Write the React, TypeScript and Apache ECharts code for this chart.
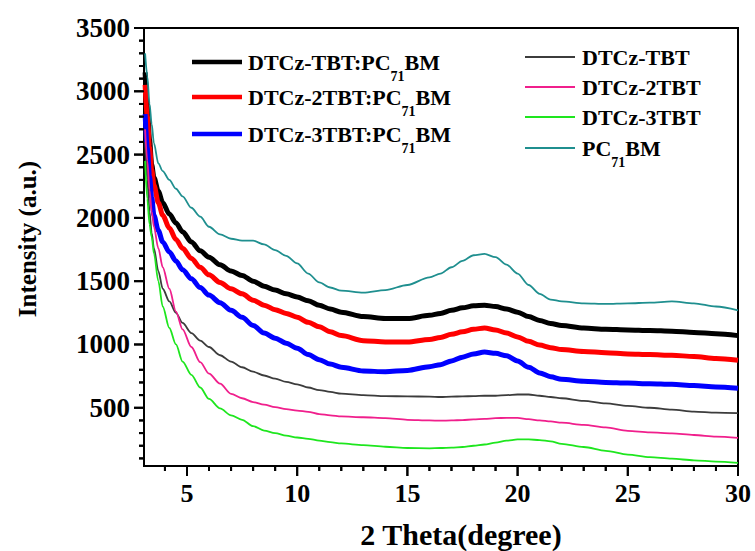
import React, { useEffect, useRef } from "react";
import * as echarts from "echarts";

// 2θ sample positions (degree)
const twoTheta = [3.1, 3.2, 3.3, 3.4, 3.5, 3.7, 3.9, 4.2, 4.5, 4.8, 5.2, 5.6, 6, 6.5, 7, 7.5, 8, 8.5, 9, 9.5, 10, 10.5, 11, 11.5, 12, 13, 14, 15, 16, 16.5, 17, 17.5, 18, 18.5, 19, 19.5, 20, 20.5, 21, 21.5, 22, 23, 24, 25, 26, 27, 28, 29, 30];

const tbtBlend = [3150, 2900, 2620, 2420, 2320, 2210, 2120, 2030, 1960, 1890, 1810, 1740, 1690, 1630, 1580, 1545, 1500, 1460, 1430, 1400, 1375, 1345, 1310, 1280, 1255, 1220, 1205, 1205, 1230, 1245, 1270, 1290, 1305, 1310, 1300, 1280, 1255, 1220, 1190, 1165, 1150, 1130, 1120, 1115, 1110, 1105, 1095, 1085, 1070];
const tbt2Blend = [3050, 2800, 2560, 2380, 2260, 2120, 2020, 1920, 1830, 1760, 1680, 1610, 1550, 1490, 1440, 1400, 1350, 1310, 1275, 1245, 1215, 1175, 1140, 1100, 1070, 1030, 1020, 1020, 1040, 1055, 1080, 1100, 1120, 1130, 1115, 1090, 1060, 1025, 995, 975, 960, 945, 935, 925, 920, 915, 905, 890, 875];
const tbt3Blend = [2820, 2550, 2330, 2160, 2020, 1900, 1810, 1730, 1660, 1590, 1520, 1450, 1390, 1330, 1270, 1215, 1150, 1090, 1050, 1010, 970, 920, 880, 845, 820, 790, 785, 795, 825, 840, 870, 900, 925, 940, 930, 910, 870, 820, 775, 745, 725, 710, 700, 695, 690, 685, 675, 665, 655];
const tbtNeat = [2600, 2300, 2050, 1880, 1760, 1580, 1440, 1340, 1250, 1170, 1090, 1030, 980, 915, 865, 820, 785, 755, 730, 705, 685, 660, 640, 625, 612, 600, 592, 590, 588, 585, 588, 590, 592, 595, 595, 600, 605, 605, 595, 585, 575, 555, 535, 515, 500, 485, 470, 462, 458];
const tbt2Neat = [2700, 2450, 2220, 2050, 1930, 1760, 1610, 1440, 1260, 1120, 980, 860, 770, 690, 610, 575, 545, 525, 505, 490, 478, 468, 450, 440, 432, 425, 418, 405, 400, 398, 400, 403, 408, 412, 418, 420, 420, 410, 400, 392, 382, 365, 345, 318, 305, 298, 285, 272, 262];
const tbt3Neat = [2450, 2150, 1950, 1850, 1720, 1500, 1300, 1130, 1000, 865, 760, 660, 570, 495, 440, 405, 355, 320, 300, 280, 265, 255, 240, 228, 218, 205, 192, 182, 180, 182, 185, 190, 200, 210, 225, 240, 250, 250, 245, 235, 215, 190, 160, 130, 110, 98, 85, 75, 65];
const pcbmNeat = [3300, 3120, 2900, 2740, 2590, 2430, 2370, 2300, 2230, 2170, 2080, 2010, 1930, 1870, 1835, 1820, 1820, 1790, 1745, 1700, 1640, 1560, 1490, 1450, 1425, 1410, 1430, 1470, 1530, 1560, 1610, 1660, 1705, 1715, 1690, 1630, 1560, 1470, 1400, 1355, 1340, 1325, 1320, 1325, 1330, 1340, 1325, 1300, 1270];

const seriesNames = ["DTCz-TBT:PC71BM", "DTCz-2TBT:PC71BM", "DTCz-3TBT:PC71BM", "DTCz-TBT", "DTCz-2TBT", "DTCz-3TBT", "PC71BM"];
const seriesValues = [tbtBlend, tbt2Blend, tbt3Blend, tbtNeat, tbt2Neat, tbt3Neat, pcbmNeat];
const seriesColors = ["#000000", "#ff0000", "#0000ff", "#3c3c3c", "#f01f8c", "#1ee61e", "#1f8f8f"];
const seriesWidths = [5, 5, 5, 1.8, 1.8, 1.8, 1.8];

const yMajorTicks = [500, 1000, 1500, 2000, 2500, 3000, 3500];
const yMinorTicks = [100, 200, 300, 400, 600, 700, 800, 900, 1100, 1200, 1300, 1400, 1600, 1700, 1800, 1900, 2100, 2200, 2300, 2400, 2600, 2700, 2800, 2900, 3100, 3200, 3300, 3400];
const xMajorTicks = [5, 10, 15, 20, 25, 30];
const xMinorTicks = [4, 6, 7, 8, 9, 11, 12, 13, 14, 16, 17, 18, 19, 21, 22, 23, 24, 26, 27, 28, 29];

const X_MIN = 3.05;
const X_MAX = 30;
const Y_MIN = 40;
const Y_MAX = 3500;

const FONT = '"Liberation Serif", "Times New Roman", serif';

function richLabel(name: string) {
  const idx = name.indexOf("71");
  if (idx < 0) return `{m|${name}}`;
  return `{m|${name.slice(0, idx)}}{s|71}{m|${name.slice(idx + 2)}}`;
}

const richStyles = {
  m: { fontSize: 22, fontWeight: "bold", fontFamily: FONT, lineHeight: 22, fill: "#000" },
  s: { fontSize: 14, fontWeight: "bold", fontFamily: FONT, lineHeight: 42, verticalAlign: "bottom", fill: "#000" },
};

// custom series drawing axis ticks at data positions through the axis scales
function tickSeries(values: number[], vertical: boolean, len: number) {
  return {
    type: "custom",
    coordinateSystem: "cartesian2d",
    clip: false,
    data: values.map((v) => (vertical ? [X_MIN, v] : [v, Y_MIN])),
    renderItem: (_params: any, api: any) => {
      const p = api.coord([api.value(0), api.value(1)]);
      const shape = vertical
        ? { x1: p[0] - len, y1: p[1], x2: p[0], y2: p[1] }
        : { x1: p[0], y1: p[1], x2: p[0], y2: p[1] + len };
      return {
        type: "line",
        shape,
        style: { stroke: "#000", lineWidth: 2 },
      };
    },
  };
}

export default function App() {
  const ref = useRef<HTMLDivElement>(null);

  useEffect(() => {
    if (!ref.current) return;
    const chart = echarts.init(ref.current, null, { renderer: "svg" });

    const series: any[] = seriesValues.map((vals, i) => ({
      name: seriesNames[i],
      type: "line",
      data: twoTheta.map((t, j) => [t, vals[j]]),
      showSymbol: false,
      smooth: 0.3,
      smoothMonotone: "x",
      lineStyle: { color: seriesColors[i], width: seriesWidths[i] },
      itemStyle: { color: seriesColors[i] },
      z: i < 3 ? 3 : 4,
    }));

    series.push(tickSeries(yMajorTicks, true, 10));
    series.push(tickSeries(yMinorTicks, true, 5));
    series.push(tickSeries(xMajorTicks, false, 10));
    series.push(tickSeries(xMinorTicks, false, 5));

    // legend layout (positions only)
    const leftYs = [62, 97, 134];
    const rightYs = [57, 87, 117, 148];
    const graphics: any[] = [];
    seriesNames.forEach((name, i) => {
      const isLeft = i < 3;
      const y = isLeft ? leftYs[i] : rightYs[i - 3];
      const x1 = isLeft ? 192 : 525;
      const x2 = isLeft ? 242 : 575;
      graphics.push({
        type: "line",
        shape: { x1, y1: y, x2, y2: y },
        style: { stroke: seriesColors[i], lineWidth: isLeft ? 4.5 : 2 },
        z: 10,
      });
      graphics.push({
        type: "text",
        x: isLeft ? 248 : 582,
        y,
        style: {
          text: richLabel(name),
          rich: richStyles,
          align: "left",
          verticalAlign: "middle",
          fill: "#000",
        },
        z: 10,
      });
    });

    const axisLabelStyle = {
      color: "#000",
      fontFamily: FONT,
      fontWeight: "bold",
    };

    chart.setOption({
      animation: false,
      backgroundColor: "#ffffff",
      grid: {
        left: 144,
        right: 17,
        top: 28,
        bottom: 85,
        show: true,
        borderColor: "#000",
        borderWidth: 2,
        outerBoundsContain: "axisLabel",
      },
      xAxis: {
        type: "value",
        min: X_MIN,
        max: X_MAX,
        position: "bottom",
        name: "2 Theta(degree)",
        nameLocation: "middle",
        nameGap: 53,
        nameTextStyle: { ...axisLabelStyle, fontSize: 30, padding: [0, 0, 0, 40] },
        axisLine: { show: true, lineStyle: { color: "#000", width: 2 } },
        axisTick: { show: false },
        axisLabel: {
          ...axisLabelStyle,
          fontSize: 26,
          customValues: xMajorTicks,
          margin: 14,
          formatter: (v: number) => String(v),
        },
        splitLine: { show: false },
      },
      yAxis: {
        type: "value",
        min: Y_MIN,
        max: Y_MAX,
        position: "left",
        name: "Intensity (a.u.)",
        nameLocation: "middle",
        nameGap: 104,
        nameTextStyle: { ...axisLabelStyle, fontSize: 25, padding: [0, 0, 0, 16] },
        axisLine: { show: true, lineStyle: { color: "#000", width: 2 } },
        axisTick: { show: false },
        axisLabel: {
          ...axisLabelStyle,
          fontSize: 27,
          customValues: yMajorTicks,
          margin: 14,
          formatter: (v: number) => String(v),
        },
        splitLine: { show: false },
      },
      series,
      graphic: graphics,
    });

    // additional tick marks placed with the chart's own scale conversion
    const tickGraphics: any[] = [];
    const addTick = (value: [number, number], vertical: boolean, len: number) => {
      const p = chart.convertToPixel({ gridIndex: 0 }, value) as number[];
      if (!p || !isFinite(p[0]) || !isFinite(p[1])) return;
      tickGraphics.push({
        type: "line",
        shape: vertical
          ? { x1: p[0] - len, y1: p[1], x2: p[0], y2: p[1] }
          : { x1: p[0], y1: p[1], x2: p[0], y2: p[1] + len },
        style: { stroke: "#000", lineWidth: 2 },
        z: 20,
      });
    };
    yMajorTicks.forEach((v) => addTick([X_MIN, v], true, 10));
    yMinorTicks.forEach((v) => addTick([X_MIN, v], true, 5));
    xMajorTicks.forEach((v) => addTick([v, Y_MIN], false, 10));
    xMinorTicks.forEach((v) => addTick([v, Y_MIN], false, 5));
    chart.setOption({ graphic: [...graphics, ...tickGraphics] });

    return () => chart.dispose();
  }, []);

  return (
    <div
      ref={ref}
      style={{ position: "fixed", left: 0, top: 0, width: 755, height: 551, background: "#fff" }}
    />
  );
}
